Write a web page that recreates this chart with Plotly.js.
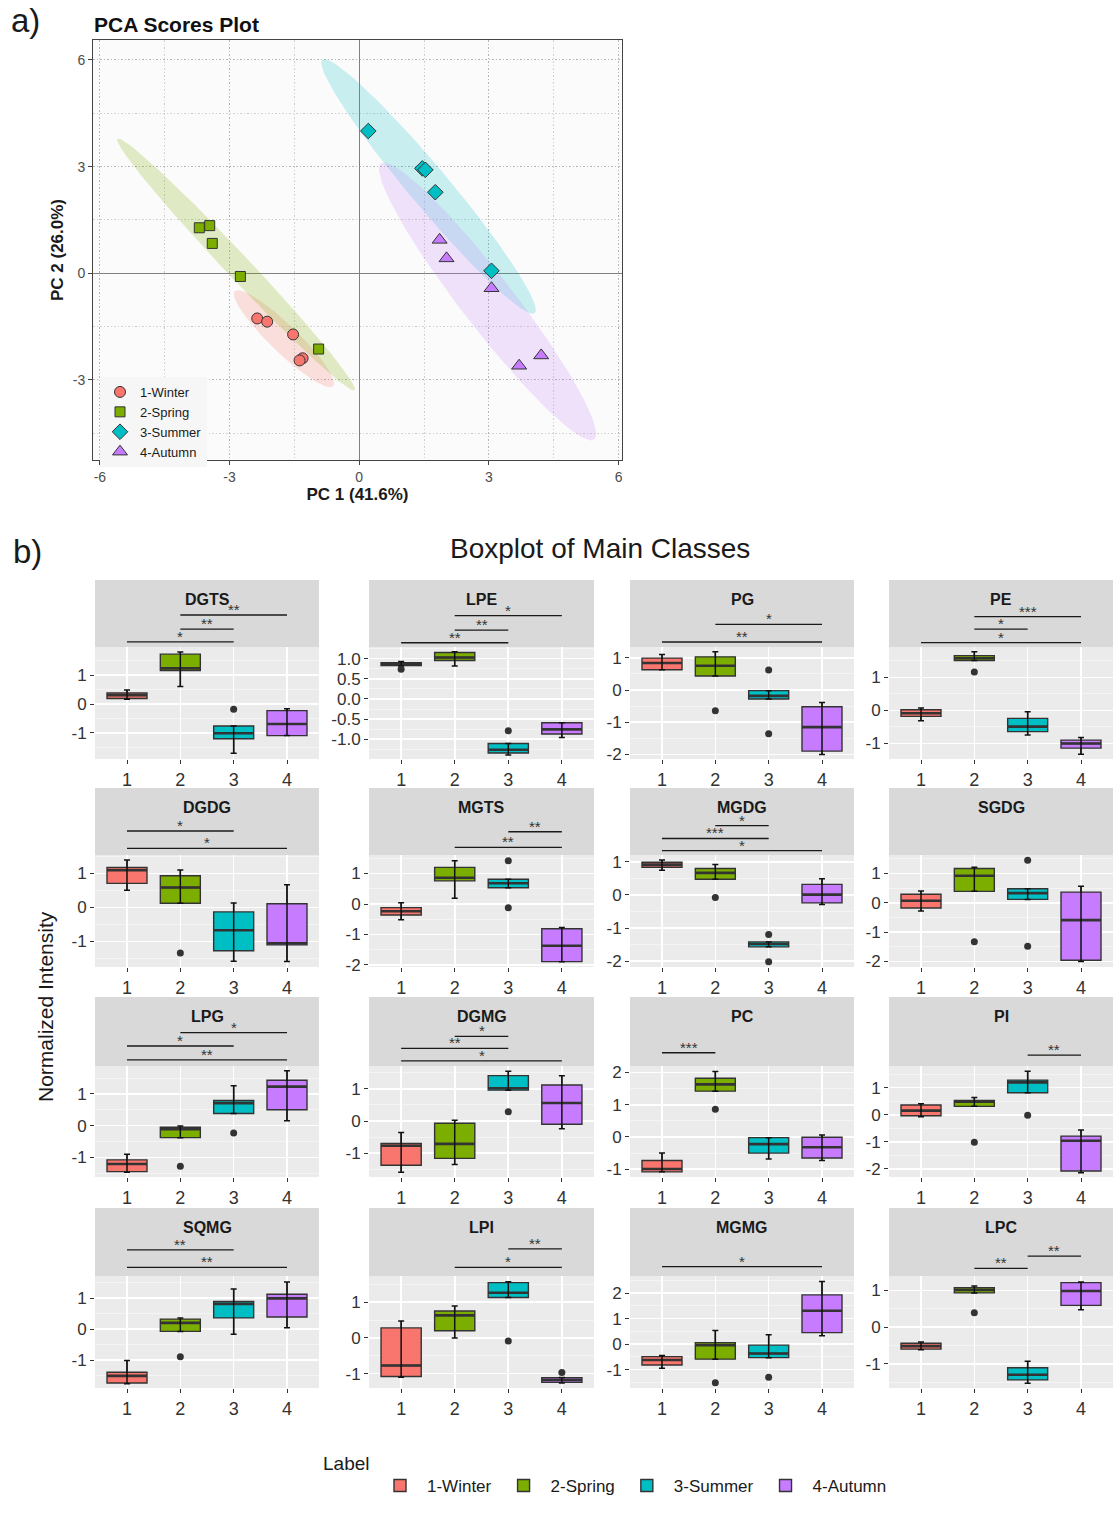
<!DOCTYPE html>
<html><head><meta charset="utf-8">
<script src="https://cdn.plot.ly/plotly-3.0.1.min.js"></script>
<style>html,body{margin:0;padding:0;background:#fff}</style>
</head><body>
<div id="chart" style="width:1115px;height:1514px"></div>
<script>
// ================= DATA =================
const seasons = ['1-Winter', '2-Spring', '3-Summer', '4-Autumn'];
const groupIds = [1, 2, 3, 4];

// PCA scores (PC1, PC2) per season
const winterPC1 = [-2.36, -2.13, -1.53, -1.31, -1.38];
const winterPC2 = [-1.27, -1.36, -1.72, -2.39, -2.45];
const springPC1 = [-3.70, -3.46, -3.40, -2.75, -0.94];
const springPC2 = [1.28, 1.34, 0.84, -0.09, -2.13];
const summerPC1 = [0.21, 1.46, 1.53, 1.76, 3.06];
const summerPC2 = [4.00, 2.95, 2.91, 2.28, 0.07];
const autumnPC1 = [1.86, 2.02, 3.06, 3.70, 4.21];
const autumnPC2 = [0.94, 0.42, -0.42, -2.60, -2.31];
const pcaTicks = [-6, -3, 0, 3, 6];

// Boxplot classes, stats per group 1..4
const classes = ['DGTS', 'LPE', 'PG', 'PE', 'DGDG', 'MGTS', 'MGDG', 'SGDG',
                 'LPG', 'DGMG', 'PC', 'PI', 'SQMG', 'LPI', 'MGMG', 'LPC'];
const lowerWhisker = [
  [0.16, 0.60, -1.70, -1.09], [0.82, 0.82, -1.39, -0.955], [0.63, 0.435, -0.28, -2.0], [-0.31, 1.51, -0.74, -1.33],
  [0.51, 0.125, -1.58, -1.59], [-0.52, 0.19, 0.535, -1.89], [0.75, 0.475, -1.57, -0.29], [-0.28, 0.39, 0.115, -2.0],
  [-1.47, -0.38, 0.38, 0.15], [-1.59, -1.35, 0.96, -0.24], [-1.08, 1.42, -0.68, -0.73], [-0.07, 0.31, 0.81, -2.14],
  [-1.76, -0.075, -0.17, 0.04], [-1.10, 0.0, 1.13, -1.26], [-0.95, -0.59, -0.53, 0.33], [-0.62, 0.93, -1.53, 0.47]];
const q1 = [
  [0.19, 1.15, -1.20, -1.09], [0.83, 0.955, -1.34, -0.87], [0.63, 0.435, -0.28, -1.895], [-0.18, 1.51, -0.64, -1.14],
  [0.71, 0.125, -1.27, -1.10], [-0.36, 0.76, 0.535, -1.89], [0.84, 0.475, -1.57, -0.24], [-0.18, 0.39, 0.115, -1.96],
  [-1.45, -0.38, 0.38, 0.50], [-1.375, -1.16, 0.96, -0.10], [-1.08, 1.42, -0.50, -0.65], [-0.04, 0.31, 0.81, -2.08],
  [-1.74, -0.075, 0.36, 0.39], [-1.08, 0.20, 1.13, -1.24], [-0.82, -0.59, -0.53, 0.45], [-0.60, 0.93, -1.44, 0.59]];
const medians = [
  [0.30, 1.23, -1.01, -0.69], [0.87, 1.03, -1.26, -0.755], [0.84, 0.755, -0.18, -1.15], [-0.085, 1.58, -0.49, -1.0],
  [1.10, 0.59, -0.67, -1.05], [-0.24, 0.86, 0.68, -1.37], [0.92, 0.67, -1.485, 0.01], [0.07, 0.92, 0.33, -0.59],
  [-1.21, -0.11, 0.71, 1.23], [-0.77, -0.71, 1.02, 0.56], [-0.99, 1.63, -0.22, -0.32], [0.15, 0.48, 1.195, -0.96],
  [-1.51, 0.20, 0.81, 0.99], [-0.77, 0.63, 1.26, -1.17], [-0.62, -0.04, -0.37, 1.31], [-0.52, 1.01, -1.30, 0.98]];
const q3 = [
  [0.38, 1.72, -0.76, -0.23], [0.90, 1.155, -1.105, -0.59], [0.99, 1.03, -0.02, -0.52], [0.02, 1.66, -0.24, -0.90],
  [1.18, 0.935, -0.13, 0.11], [-0.12, 1.20, 0.81, -0.81], [0.99, 0.80, -1.42, 0.32], [0.29, 1.17, 0.48, 0.365],
  [-1.08, -0.05, 0.79, 1.43], [-0.70, -0.07, 1.41, 1.12], [-0.73, 1.82, -0.02, -0.01], [0.36, 0.53, 1.28, -0.79],
  [-1.39, 0.32, 0.89, 1.12], [0.28, 0.75, 1.545, -1.11], [-0.49, 0.06, -0.04, 1.93], [-0.44, 1.07, -1.11, 1.21]];
const upperWhisker = [
  [0.48, 1.79, -0.76, -0.16], [0.93, 1.17, -1.105, -0.59], [1.10, 1.19, -0.02, -0.39], [0.07, 1.78, -0.04, -0.82],
  [1.40, 1.10, 0.13, 0.67], [0.04, 1.42, 0.81, -0.77], [1.06, 0.92, -1.42, 0.49], [0.40, 1.21, 0.48, 0.56],
  [-0.90, -0.01, 1.26, 1.73], [-0.36, 0.02, 1.55, 1.41], [-0.50, 2.03, -0.02, 0.06], [0.41, 0.64, 1.61, -0.56],
  [-1.01, 0.355, 1.29, 1.52], [0.47, 0.89, 1.57, -1.11], [-0.45, 0.53, 0.37, 2.45], [-0.41, 1.12, -0.93, 1.23]];
// outliers: [group, value]
const outliers = [
  [[3, -0.18]], [[1, 0.74], [3, -0.79]], [[2, -0.64], [3, 0.62], [3, -1.36]], [[2, 1.16]],
  [[2, -1.34]], [[3, 1.42], [3, -0.12]], [[2, -0.08], [3, -1.20], [3, -2.02]], [[2, -1.33], [3, 1.45], [3, -1.48]],
  [[2, -1.28], [3, -0.23]], [[3, 0.29]], [[2, 0.86]], [[2, -1.02], [3, -0.02]],
  [[2, -0.89]], [[3, -0.09], [4, -0.97]], [[2, -1.51], [3, -1.30]], [[2, 0.39]]];
// significance brackets: [from group, to group, label, y position (data units)]
const significance = [
  [[1, 3, '*', 2.14], [2, 3, '**', 2.58], [2, 4, '**', 3.07]],
  [[1, 3, '**', 1.395], [2, 3, '**', 1.71], [2, 4, '*', 2.07]],
  [[1, 4, '**', 1.49], [2, 4, '*', 2.04]],
  [[1, 4, '*', 2.05], [2, 3, '*', 2.46], [2, 4, '***', 2.84]],
  [[1, 4, '*', 1.74], [1, 3, '*', 2.25]],
  [[2, 4, '**', 1.86], [3, 4, '**', 2.37]],
  [[1, 4, '*', 1.34], [1, 3, '***', 1.71], [2, 3, '*', 2.10]],
  [],
  [[1, 4, '**', 2.07], [1, 3, '*', 2.51], [2, 4, '*', 2.93]],
  [[1, 4, '*', 1.87], [1, 3, '**', 2.26], [2, 3, '*', 2.63]],
  [[1, 2, '***', 2.61]],
  [[3, 4, '**', 2.20]],
  [[1, 4, '**', 1.99], [1, 3, '**', 2.55]],
  [[2, 4, '*', 1.97], [3, 4, '**', 2.49]],
  [[1, 4, '*', 3.04]],
  [[2, 3, '**', 1.60], [3, 4, '**', 1.93]]];

// ================= LAYOUT CONFIG =================
const W = 1115, H = 1514;
const FONT = 'Liberation Sans, Arial, Helvetica, sans-serif';
const seasonColors = ['#F8766D', '#7CAE00', '#00BFC4', '#C77CFF'];
const ellipseFill = ['rgba(248,118,109,0.22)', 'rgba(124,174,0,0.22)', 'rgba(0,191,196,0.20)', 'rgba(199,124,255,0.20)'];
const pcaSymbols = ['circle', 'square', 'diamond', 'triangle-up'];
const pcaSizes = [11, 10, 12, 13];
const colLeft = [95, 369, 630, 889], colRight = [319, 594, 854, 1113];
const panelTop = [647, 855, 1066, 1276], panelBottom = [759, 967, 1177, 1388];
const stripTop = [580, 788, 997, 1208];
const panelYRange = [
  [-1.897, 1.966], [-1.49, 1.29], [-2.14, 1.335], [-1.47, 1.92],
  [-1.75, 1.544], [-2.066, 1.607], [-2.18, 1.21], [-2.19, 1.63],
  [-1.62, 1.88], [-1.74, 1.71], [-1.24, 2.20], [-2.30, 1.80],
  [-1.90, 1.71], [-1.40, 1.73], [-1.72, 2.67], [-1.66, 1.39]];
const panelDtick = [1, 0.5, 1, 1, 1, 1, 1, 1, 1, 1, 1, 1, 1, 1, 1, 1];
const BOXW = 0.75;

const fx = p => p / W;
const fy = p => 1 - p / H;

function tickSet(range, dtick, dec) {
  const vals = [], txt = [];
  for (let v = Math.ceil(range[0] / dtick) * dtick; v <= range[1] + 1e-9; v += dtick) {
    const r = Math.round(v * 1000) / 1000;
    vals.push(r);
    txt.push(dec ? r.toFixed(dec) : String(r));
  }
  return {vals, txt};
}

// 95% normal-theory ellipse (as ellipse::ellipse)
function ellipse95(xs, ys) {
  const n = xs.length;
  const mx = xs.reduce((a, b) => a + b, 0) / n, my = ys.reduce((a, b) => a + b, 0) / n;
  let sxx = 0, syy = 0, sxy = 0;
  for (let i = 0; i < n; i++) { sxx += (xs[i] - mx) ** 2; syy += (ys[i] - my) ** 2; sxy += (xs[i] - mx) * (ys[i] - my); }
  sxx /= (n - 1); syy /= (n - 1); sxy /= (n - 1);
  const t = Math.sqrt(5.991464547107979);
  const sx = Math.sqrt(sxx), sy = Math.sqrt(syy);
  const r = Math.max(-1, Math.min(1, sxy / (sx * sy)));
  const d = Math.acos(r);
  const ex = [], ey = [];
  for (let k = 0; k <= 120; k++) {
    const a = 2 * Math.PI * k / 120;
    ex.push(t * sx * Math.cos(a + d / 2) + mx);
    ey.push(t * sy * Math.cos(a - d / 2) + my);
  }
  return {ex, ey};
}

const traces = [], shapes = [], annotations = [];
const layout = {
  width: W, height: H,
  margin: {l: 0, r: 0, t: 0, b: 0},
  paper_bgcolor: '#ffffff', plot_bgcolor: 'rgba(0,0,0,0)',
  font: {family: FONT, color: '#1a1a1a'},
  boxmode: 'overlay',
  showlegend: true,
  legend: {orientation: 'h', x: fx(373), xanchor: 'left', y: fy(1486), yanchor: 'middle', itemwidth: 44,
           font: {size: 17, color: '#1a1a1a', family: FONT}, bgcolor: 'rgba(0,0,0,0)', traceorder: 'normal'},
  legend2: {orientation: 'v', x: fx(100), xanchor: 'left', y: fy(377), yanchor: 'top',
            font: {size: 13, color: '#1a1a1a', family: FONT}, bgcolor: '#f6f6f6', tracegroupgap: 0}
};

// ---------- PCA ----------
const pcaX = [winterPC1, springPC1, summerPC1, autumnPC1];
const pcaY = [winterPC2, springPC2, summerPC2, autumnPC2];
const pcaTickText = pcaTicks.map(String);
function pcaAxis(extra) {
  return Object.assign({
    tickmode: 'array', tickvals: pcaTicks, ticktext: pcaTickText,
    showgrid: true, gridcolor: '#b5b5b5', griddash: '1.5px,2px', gridwidth: 1,
    minor: {tickmode: 'linear', tick0: 0, dtick: 1.5, showgrid: true, gridcolor: '#d0d0d0', griddash: '1.5px,2px', gridwidth: 1},
    zeroline: true, zerolinecolor: '#808080', zerolinewidth: 1,
    showline: true, mirror: true, linecolor: '#444', linewidth: 1,
    ticks: 'outside', ticklen: 4, tickcolor: '#444', tickfont: {size: 14, color: '#4d4d4d'},
    automargin: false, fixedrange: true}, extra);
}
layout.xaxis = pcaAxis({domain: [fx(93), fx(622)], range: [-6.16, 6.08], anchor: 'y',
  title: {text: '<b>PC 1 (41.6%)</b>', font: {size: 17, color: '#1a1a1a'}, standoff: 3}});
layout.yaxis = pcaAxis({domain: [fy(460), fy(40)], range: [-5.25, 6.56], anchor: 'x',
  title: {text: '<b>PC 2 (26.0%)</b>', font: {size: 17, color: '#1a1a1a'}, standoff: 4}});
shapes.push({type: 'rect', xref: 'x domain', yref: 'y domain', x0: 0, x1: 1, y0: 0, y1: 1,
  fillcolor: '#fbfbfb', line: {width: 0}, layer: 'below'});

for (let s = 0; s < 4; s++) {
  const e = ellipse95(pcaX[s], pcaY[s]);
  traces.push({type: 'scatter', mode: 'lines', x: e.ex, y: e.ey, xaxis: 'x', yaxis: 'y',
    fill: 'toself', fillcolor: ellipseFill[s], line: {width: 0, color: 'rgba(0,0,0,0)'},
    showlegend: false, hoverinfo: 'skip'});
}
for (let s = 0; s < 4; s++) {
  traces.push({type: 'scatter', mode: 'markers', x: pcaX[s], y: pcaY[s], xaxis: 'x', yaxis: 'y',
    name: seasons[s], legend: 'legend2', showlegend: true,
    marker: {symbol: pcaSymbols[s], size: pcaSizes[s], color: seasonColors[s], line: {color: '#333', width: 1}}});
}

// ---------- BOXPLOT PANELS ----------
classes.forEach((cls, i) => {
  const r = Math.floor(i / 4), c = i % 4;
  const n = i + 2, e = i + 18;
  const xa = 'x' + n, ya = 'y' + n, xe = 'x' + e, ye = 'y' + e;
  const yr = panelYRange[i], dt = panelDtick[i];
  const tk = tickSet(yr, dt, dt < 1 ? 1 : 0);

  layout['xaxis' + n] = {domain: [fx(colLeft[c]), fx(colRight[c])], range: [0.4, 4.6], anchor: ya, type: 'linear',
    tickmode: 'array', tickvals: groupIds, ticktext: groupIds.map(String),
    showgrid: true, gridcolor: '#ffffff', gridwidth: 1.6, zeroline: false, showline: false,
    ticks: 'outside', ticklen: 4, tickcolor: '#333', tickfont: {size: 18, color: '#333333'}, fixedrange: true};
  layout['yaxis' + n] = {domain: [fy(panelBottom[r]), fy(panelTop[r])], range: yr, anchor: xa,
    tickmode: 'array', tickvals: tk.vals, ticktext: tk.txt,
    showgrid: true, gridcolor: '#ffffff', gridwidth: 1.6, zeroline: false, showline: false,
    minor: {tickmode: 'linear', tick0: 0, dtick: dt / 2, showgrid: true, gridcolor: '#f6f6f6', gridwidth: 0.8},
    ticks: 'outside', ticklen: 4, tickcolor: '#333', tickfont: {size: 17, color: '#333333'}, fixedrange: true};

  // extended (hidden) axes covering panel + strip, same scale, for significance brackets
  const extHi = yr[0] + (yr[1] - yr[0]) * (panelBottom[r] - stripTop[r]) / (panelBottom[r] - panelTop[r]);
  layout['xaxis' + e] = {domain: [fx(colLeft[c]), fx(colRight[c])], range: [0.4, 4.6], anchor: ye, visible: false, fixedrange: true};
  layout['yaxis' + e] = {domain: [fy(panelBottom[r]), fy(stripTop[r])], range: [yr[0], extHi], anchor: xe, visible: false, fixedrange: true};

  // panel background and strip
  shapes.push({type: 'rect', xref: xa + ' domain', yref: ya + ' domain', x0: 0, x1: 1, y0: 0, y1: 1,
    fillcolor: '#ebebeb', line: {width: 0}, layer: 'below'});
  shapes.push({type: 'rect', xref: xa + ' domain', yref: 'paper', x0: 0, x1: 1, y0: fy(panelTop[r]), y1: fy(stripTop[r]),
    fillcolor: '#d9d9d9', line: {width: 0}, layer: 'below'});
  annotations.push({xref: xa + ' domain', x: 0.5, yref: 'paper', y: fy(stripTop[r] + 19), text: '<b>' + cls + '</b>',
    showarrow: false, xanchor: 'center', yanchor: 'middle', font: {size: 16, color: '#1a1a1a'}});

  // boxes
  groupIds.forEach((g, k) => {
    traces.push({type: 'box', xaxis: xa, yaxis: ya, x: [g],
      q1: [q1[i][k]], median: [medians[i][k]], q3: [q3[i][k]],
      lowerfence: [lowerWhisker[i][k]], upperfence: [upperWhisker[i][k]],
      width: BOXW, whiskerwidth: 0, boxpoints: false,
      fillcolor: seasonColors[k], line: {color: '#333333', width: 1.4},
      name: seasons[k], legendgroup: seasons[k], legend: 'legend', showlegend: i === 0, hoverinfo: 'skip'});
  });
  // thicker median bars
  const mx = [], my = [];
  groupIds.forEach((g, k) => { mx.push(g - BOXW / 2, g + BOXW / 2, null); my.push(medians[i][k], medians[i][k], null); });
  traces.push({type: 'scatter', mode: 'lines', xaxis: xa, yaxis: ya, x: mx, y: my,
    line: {color: '#333333', width: 2.6}, showlegend: false, hoverinfo: 'skip'});
  // error-bar whiskers
  traces.push({type: 'scatter', mode: 'markers', xaxis: xa, yaxis: ya, x: groupIds, y: medians[i],
    marker: {color: 'rgba(0,0,0,0)', size: 1},
    error_y: {type: 'data', symmetric: false,
      array: groupIds.map((g, k) => upperWhisker[i][k] - medians[i][k]),
      arrayminus: groupIds.map((g, k) => medians[i][k] - lowerWhisker[i][k]),
      width: 3, thickness: 1.5, color: '#111111'},
    showlegend: false, hoverinfo: 'skip'});
  // outliers
  traces.push({type: 'scatter', mode: 'markers', xaxis: xa, yaxis: ya,
    x: outliers[i].map(o => o[0]), y: outliers[i].map(o => o[1]),
    marker: {color: '#333333', size: 7}, showlegend: false, hoverinfo: 'skip'});
  // significance brackets
  if (significance[i].length) {
    const sx = [], sy = [];
    significance[i].forEach(sg => { sx.push(sg[0], sg[1], null); sy.push(sg[3], sg[3], null); });
    traces.push({type: 'scatter', mode: 'lines', xaxis: xe, yaxis: ye, x: sx, y: sy, cliponaxis: false,
      line: {color: '#1a1a1a', width: 1.3}, showlegend: false, hoverinfo: 'skip'});
    significance[i].forEach(sg => {
      annotations.push({xref: xe, yref: ye, x: (sg[0] + sg[1]) / 2, y: sg[3], text: sg[2], showarrow: false,
        xanchor: 'center', yanchor: 'bottom', yshift: -5, font: {size: 15, color: '#333333'}});
    });
  }
});

// ---------- TEXT ----------
annotations.push(
  {xref: 'paper', yref: 'paper', x: fx(9), y: fy(21), text: 'a)', showarrow: false, xanchor: 'left', yanchor: 'middle', font: {size: 33, color: '#1a1a1a'}},
  {xref: 'paper', yref: 'paper', x: fx(11), y: fy(551), text: 'b)', showarrow: false, xanchor: 'left', yanchor: 'middle', font: {size: 33, color: '#1a1a1a'}},
  {xref: 'paper', yref: 'paper', x: fx(92), y: fy(25), text: '<b>PCA Scores Plot</b>', showarrow: false, xanchor: 'left', yanchor: 'middle', font: {size: 21, color: '#111'}},
  {xref: 'paper', yref: 'paper', x: fx(600), y: fy(548), text: 'Boxplot of Main Classes', showarrow: false, xanchor: 'center', yanchor: 'middle', font: {size: 28, color: '#1a1a1a'}},
  {xref: 'paper', yref: 'paper', x: fx(45), y: fy(1007), text: 'Normalized Intensity', textangle: -90, showarrow: false, xanchor: 'center', yanchor: 'middle', font: {size: 21, color: '#1a1a1a'}},
  {xref: 'paper', yref: 'paper', x: fx(321), y: fy(1463), text: 'Label', showarrow: false, xanchor: 'left', yanchor: 'middle', font: {size: 19, color: '#1a1a1a'}}
);

layout.shapes = shapes;
layout.annotations = annotations;
Plotly.newPlot('chart', traces, layout, {staticPlot: true, displayModeBar: false});
</script>
</body></html>
